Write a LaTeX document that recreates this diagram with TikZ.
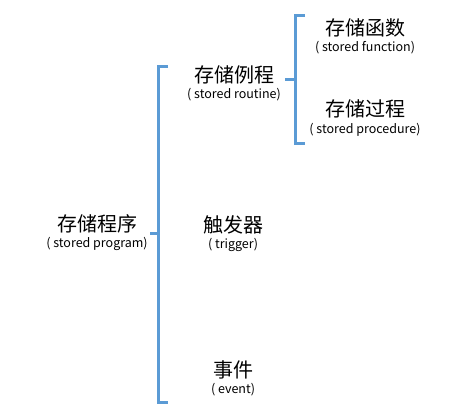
\documentclass[tikz,border=0pt]{standalone}
\usepackage{fontspec}
\setmainfont{Noto Sans CJK SC}
\usepackage{xcolor}
\usetikzlibrary{positioning}
\definecolor{braceblue}{HTML}{5B9BD5}

\begin{document}
\begin{tikzpicture}[x=1pt, y=-1pt,
            title/.style={font=\fontsize{20}{22}\selectfont, inner sep=0pt},
            note/.style={font=\fontsize{12.5}{14}\selectfont, inner sep=0pt},
            brace/.style={draw=braceblue, line width=3pt}]
            \useasboundingbox (0,0) rectangle (471,415);
            \node[title] (program) at (97,224) {存储程序};
            \node[note] (programen) at ([yshift=-20pt]program.center) {( stored program)};
            \node[title] (routine) at (234,75) {存储例程};
            \node[note] (routineen) at ([yshift=-20pt]routine.center) {( stored routine)};
            \node[title] (func) at (365,28) {存储函数};
            \node[note] (funcen) at ([yshift=-20pt]func.center) {( stored function)};
            \node[title] (proc) at (365,109) {存储过程};
            \node[note] (procen) at ([yshift=-21pt]proc.center) {( stored procedure)};
            \node[title] (trigger) at (233,225) {触发器};
            \node[note] (triggeren) at ([yshift=-20pt]trigger.center) {( trigger)};
            \node[title] (event) at (233,370) {事件};
            \node[note] (eventen) at ([yshift=-20pt]event.center) {( event)};

            % brackets
            \draw[brace] (168,66) -- (158,66) -- (158,402) -- (168,402);
            \draw[brace] (150,233) -- (158,233);
            \draw[brace] (305,15) -- (295,15) -- (295,143) -- (305,143);
            \draw[brace] (285,79) -- (295,79);
        \end{tikzpicture}
\end{document}
